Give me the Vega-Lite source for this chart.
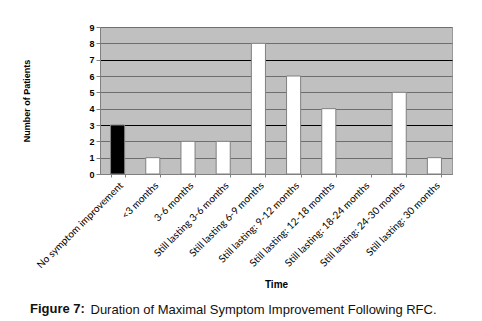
{
  "$schema": "https://vega.github.io/schema/vega-lite/v6.json",
  "width": 352,
  "height": 147,
  "autosize": {"type": "none"},
  "padding": {"left": 100, "top": 27, "right": 30, "bottom": 147},
  "background": "white",
  "title": {
    "text": "Figure 7:",
    "orient": "bottom",
    "anchor": "start",
    "frame": "group",
    "dx": -70,
    "offset": -13,
    "font": "Liberation Sans",
    "fontSize": 13,
    "fontWeight": "bold",
    "color": "#111"
  },
  "data": {
    "values": [
      {"time": "No symptom improvement", "patients": 3, "group": "none"},
      {"time": "<3 months", "patients": 1, "group": "improved"},
      {"time": "3-6 months", "patients": 2, "group": "improved"},
      {"time": "Still lasting 3-6 months", "patients": 2, "group": "improved"},
      {"time": "Still lasting 6-9 months", "patients": 8, "group": "improved"},
      {"time": "Still lasting: 9-12 months", "patients": 6, "group": "improved"},
      {"time": "Still lasting: 12-18 months", "patients": 4, "group": "improved"},
      {"time": "Still lasting: 18-24 months", "patients": 0, "group": "improved"},
      {"time": "Still lasting: 24-30 months", "patients": 5, "group": "improved"},
      {"time": "Still lasting: 30 months", "patients": 1, "group": "improved"}
    ]
  },
  "resolve": {"axis": {"x": "independent"}},
  "layer": [
    {
      "mark": {"type": "bar", "strokeWidth": 1},
      "encoding": {
        "x": {
          "field": "time",
          "type": "nominal",
          "sort": null,
          "scale": {"paddingInner": 0.6, "paddingOuter": 0.3},
          "axis": {
            "orient": "bottom",
            "title": "Time",
            "titleFont": "Liberation Sans",
            "titleFontSize": 10,
            "titleFontWeight": "bold",
            "titleColor": "black",
            "titleY": 105,
            "labelAngle": -45,
            "labelFont": "Lato",
            "labelFontSize": 10,
            "labelColor": "black",
            "labelPadding": 3,
            "tickBand": "extent",
            "tickSize": 3,
            "tickColor": "#808080",
            "domainColor": "#808080",
            "grid": false
          }
        },
        "y": {
          "field": "patients",
          "type": "quantitative",
          "scale": {"domain": [0, 9], "nice": false},
          "axis": {
            "title": "Number of Patients",
            "titleFont": "Liberation Sans",
            "titleFontSize": 9,
            "titleFontWeight": "bold",
            "titleColor": "black",
            "titlePadding": 57,
            "values": [0,1,2,3,4,5,6,7,8,9],
            "labelFont": "Liberation Sans",
            "labelFontSize": 9,
            "labelFontWeight": "bold",
            "labelColor": "black",
            "labelPadding": 2,
            "tickSize": 4,
            "tickColor": "#808080",
            "domainColor": "#808080",
            "grid": true,
            "gridColor": {"condition": {"test": "datum.value === 3 || datum.value === 7", "value": "#000000"}, "value": "#6e6e6e"},
            "gridOpacity": 1
          }
        },
        "fill": {
          "field": "group",
          "type": "nominal",
          "scale": {"domain": ["none", "improved"], "range": ["#000000", "#ffffff"]},
          "legend": null
        },
        "stroke": {
          "condition": {"test": "datum.patients > 0", "value": "#808080"},
          "value": null
        }
      }
    },
    {
      "mark": {"type": "bar", "opacity": 0},
      "encoding": {
        "x": {
          "field": "time",
          "type": "nominal",
          "sort": null,
          "axis": {
            "orient": "bottom",
            "title": "Duration of Maximal Symptom Improvement Following RFC.",
            "titleFont": "Liberation Sans",
            "titleFontSize": 13,
            "titleFontWeight": "normal",
            "titleColor": "#111",
            "titleX": -10,
            "titleY": 139,
            "titleAlign": "left",
            "titleAnchor": "start",
            "titleBaseline": "alphabetic",
            "labels": false,
            "ticks": false,
            "domain": false,
            "grid": false
          }
        }
      }
    }
  ],
  "config": {
    "view": {"fill": "#c0c0c0", "stroke": "#999999"}
  }
}
